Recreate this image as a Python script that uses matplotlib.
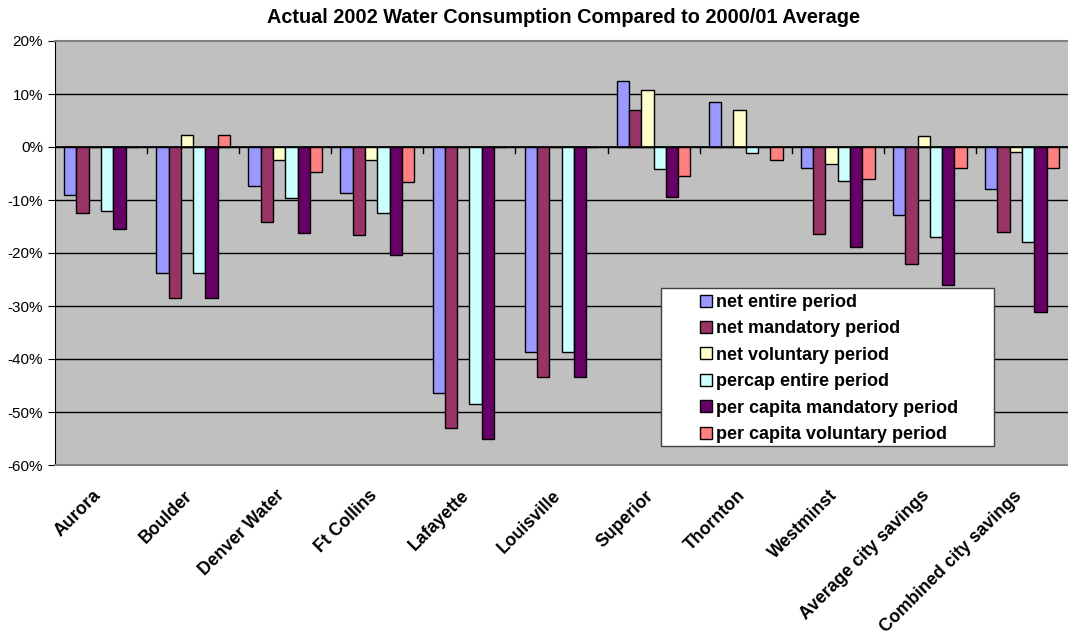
import matplotlib
matplotlib.use("Agg")
import matplotlib.pyplot as plt
import matplotlib.transforms as mtransforms
from matplotlib.patches import Rectangle
import numpy as np
from matplotlib.ticker import FuncFormatter, MultipleLocator

categories = ["Aurora", "Boulder", "Denver Water", "Ft Collins", "Lafayette",
              "Louisville", "Superior", "Thornton", "Westminst",
              "Average city savings", "Combined city savings"]
series_names = ["net entire period", "net mandatory period", "net voluntary period",
                "percap entire period", "per capita mandatory period",
                "per capita voluntary period"]
net_entire = [-9.0, -23.8, -7.3, -8.7, -46.4, -38.7, 12.4, 8.4, -3.9, -12.9, -8.0]
net_mandatory = [-12.5, -28.5, -14.1, -16.6, -53.1, -43.4, 7.0, 0.0, -16.5, -22.0, -16.0]
net_voluntary = [0.0, 2.3, -2.4, -2.5, 0.0, 0.0, 10.7, 6.9, -3.3, 2.0, -1.0]
percap_entire = [-12.1, -23.8, -9.7, -12.5, -48.5, -38.6, -4.1, -1.1, -6.5, -17.0, -17.9]
percap_mandatory = [-15.4, -28.5, -16.2, -20.3, -55.0, -43.4, -9.5, 0.0, -18.8, -26.0, -31.1]
percap_voluntary = [0.0, 2.3, -4.8, -6.6, 0.0, 0.0, -5.4, -2.4, -6.1, -4.0, -4.0]
series = [net_entire, net_mandatory, net_voluntary, percap_entire, percap_mandatory, percap_voluntary]
colors = ["#9999FF", "#993366", "#FFFFCC", "#CCFFFF", "#660066", "#FF8080"]

plt.rcParams['font.family'] = ['Liberation Sans', 'DejaVu Sans']
W, H = 1068, 635
fig = plt.figure(figsize=(W / 100, H / 100), dpi=100)
ax_l, ax_t, ax_b = 55, 41, 465
ax = fig.add_axes([ax_l / W, (H - ax_b) / H, 1 - ax_l / W, (ax_b - ax_t) / H])
ax.set_facecolor("#C0C0C0")

def to_axes(px, py):
    return (px - ax_l) / (W - ax_l), (ax_b - py) / (ax_b - ax_t)

n = len(series)
x = np.arange(len(categories))
bw = 1.0 / (n + 1.5)
for i, (vals, c, name) in enumerate(zip(series, colors, series_names)):
    offs = (i - (n - 1) / 2) * bw
    ax.bar(x + offs, vals, bw, color=c, edgecolor="black", linewidth=1.0, label=name, zorder=3)

ax.set_xlim(-0.5, len(categories) - 0.5)
ax.set_ylim(-60, 20)
ax.yaxis.set_major_locator(MultipleLocator(10))
ax.yaxis.set_major_formatter(FuncFormatter(lambda v, p: f"{int(round(v))}%"))
for y in range(-50, 20, 10):
    ax.axhline(y, color="black", linewidth=1.0, zorder=1)
ax.axhline(0, color="black", linewidth=1.2, zorder=4)
for b in np.arange(0.5, len(categories) - 0.5, 1.0):
    ax.plot([b, b], [0, -1.1], color="black", linewidth=1.0, zorder=4, clip_on=False)

ax.set_xticks(x)
ax.set_xticklabels(categories, rotation=45, ha="right", va="top", rotation_mode="anchor",
                   fontsize=12.7, fontweight="bold")
ax.tick_params(axis="x", length=0, pad=16)
offset = mtransforms.ScaledTranslation(-9 / 100, 0, fig.dpi_scale_trans)
for lab in ax.get_xticklabels():
    lab.set_transform(lab.get_transform() + offset)
ax.tick_params(axis="y", direction="out", length=5, labelsize=11, color="black")

for s in ["top", "bottom"]:
    ax.spines[s].set_color("#808080")
    ax.spines[s].set_linewidth(1.5)
ax.spines["right"].set_visible(False)
ax.spines["left"].set_color("black")

fig.suptitle("Actual 2002 Water Consumption Compared to 2000/01 Average",
             x=0.5275, y=0.987, fontsize=14.3, fontweight="bold", va="top")

# legend frame
x0, y0 = to_axes(661, 446)
x1, y1 = to_axes(994, 288)
ax.add_patch(Rectangle((x0, y0), x1 - x0, y1 - y0, transform=ax.transAxes,
                       facecolor="white", edgecolor="#404040", linewidth=1.0,
                       zorder=9, clip_on=False))
lx, ly = to_axes(700, 294)
leg = ax.legend(loc="upper left", bbox_to_anchor=(lx, ly),
                frameon=False, prop={"weight": "bold", "size": 13},
                handlelength=0.65, handleheight=0.65, handletextpad=0.25,
                labelspacing=0.52, borderpad=0, borderaxespad=0)
leg.set_zorder(10)

fig.savefig("out.png", dpi=100)
